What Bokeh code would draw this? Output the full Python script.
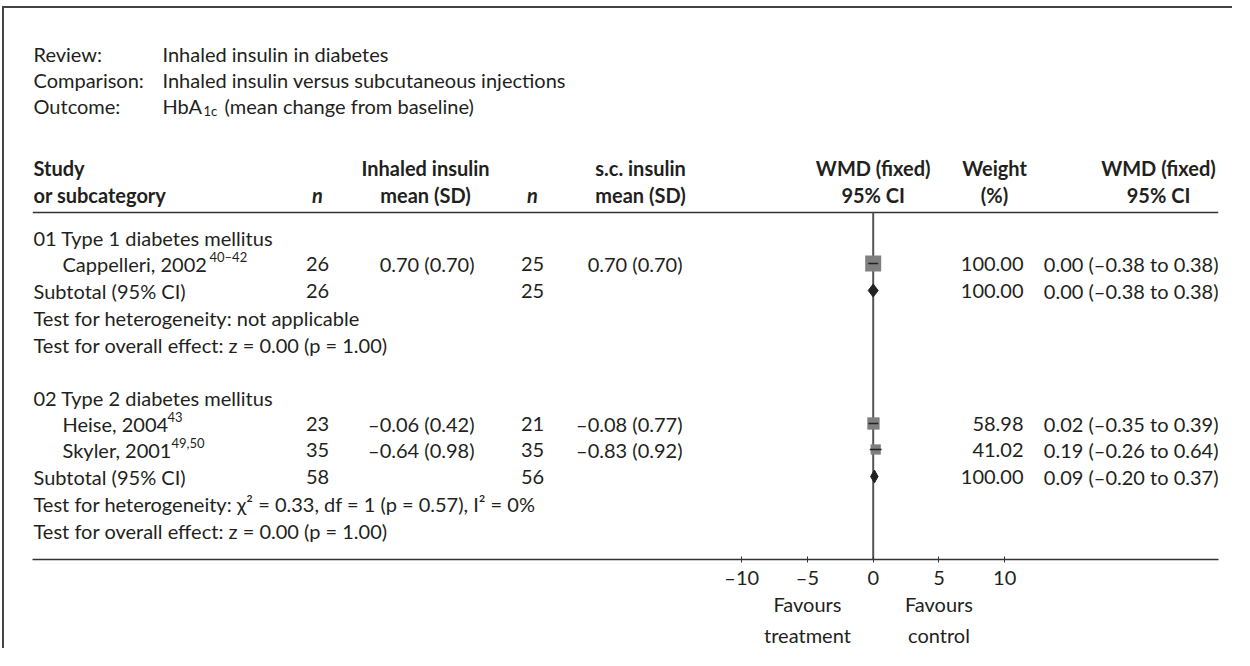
import math
from bokeh.plotting import figure
from bokeh.models import Range1d, LinearAxis, FixedTicker
from bokeh.core.properties import value
from bokeh.embed import file_html
from bokeh.resources import INLINE

# ---------------- data ----------------
review = "Inhaled insulin in diabetes"
comparison = "Inhaled insulin versus subcutaneous injections"
outcome_main = "HbA"
outcome_sub = "1c"
outcome_rest = "(mean change from baseline)"

group_names = ["01 Type 1 diabetes mellitus", "02 Type 2 diabetes mellitus"]
studies = ["Cappelleri, 2002", "Heise, 2004", "Skyler, 2001"]
study_refs = ["40\u201342", "43", "49,50"]
n_inh = [26, 23, 35]
mean_inh = [0.70, -0.06, -0.64]
sd_inh = [0.70, 0.42, 0.98]
n_sc = [25, 21, 35]
mean_sc = [0.70, -0.08, -0.83]
sd_sc = [0.70, 0.77, 0.92]
wmd = [0.00, 0.02, 0.19]
wmd_lo = [-0.38, -0.35, -0.26]
wmd_hi = [0.38, 0.39, 0.64]
weight = [100.00, 58.98, 41.02]

sub_n_inh = [26, 58]
sub_n_sc = [25, 56]
sub_wmd = [0.00, 0.09]
sub_lo = [-0.38, -0.20]
sub_hi = [0.38, 0.37]
sub_weight = [100.00, 100.00]

het_text = ["Test for heterogeneity: not applicable",
            "Test for heterogeneity: \u03c7\u00b2 = 0.33, df = 1 (p = 0.57), I\u00b2 = 0%"]
overall_text = ["Test for overall effect: z = 0.00 (p = 1.00)",
                "Test for overall effect: z = 0.00 (p = 1.00)"]

axis_ticks = [-10, -5, 0, 5, 10]
favour_labels = {-5: "Favours\ntreatment", 5: "Favours\ncontrol"}

# ---------------- layout (window pixel coordinates) ----------------
FONT = "Lato"
FS = "20px"
SUP = "13px"
INK = "#231f20"

X0, X1 = 40, 1226          # frame left/right
Y_TOP, Y_AX = 16, 567      # frame top / axis line
ZERO_X = 880.7
PX_PER_UNIT = 13.15

study_y = [271, 431, 457]
group_y = [245, 405]
subtotal_y = [298, 484]
het_y = [325, 511]
overall_y = [352, 538]
head_y = [175, 202]
rule_y = 220

col_label = 41
col_indent = 70
col_n1 = 325
col_m1 = 482
col_n2 = 540
col_m2 = 690
col_wt = 1031
col_ci = 1226
sup_x = [217, 175, 179]


def fmt(v):
    s = f"{abs(v):.2f}"
    return ("\u2013" + s) if v < 0 else s


p = figure(width=1230, height=642,
           x_range=Range1d(X0, X1), y_range=Range1d(Y_AX, Y_TOP),
           x_axis_type=None, y_axis_type=None,
           toolbar_location=None, output_backend="svg",
           min_border_left=28, min_border_right=16,
           min_border_top=0, min_border_bottom=91,
           outline_line_color=None,
           styles={"border-left": "2px solid #444", "border-top": "2px solid #444",
                   "margin-left": "2px", "margin-top": "6px"})
p.extra_x_ranges = {"wmd": Range1d((X0 - ZERO_X) / PX_PER_UNIT, (X1 - ZERO_X) / PX_PER_UNIT)}


def txt(x, y, s, align="left", style="normal", size=FS):
    if not isinstance(x, list):
        x, y, s = [x], [y], [s]
    p.text(x=x, y=y, text=s, text_font=value(FONT), text_font_size=size,
           text_font_style=style, text_align=align, text_baseline="middle",
           text_color=INK)


# title block
txt([col_label] * 3, [61, 87, 113], ["Review:", "Comparison:", "Outcome:"])
txt([170, 170, 170], [61, 87, 113], [review, comparison, outcome_main])
txt(211, 118, outcome_sub, size=SUP)
txt(232, 113, outcome_rest)

# column headers
txt([col_label, col_label], head_y, ["Study", "or subcategory"], style="bold")
txt([col_n1, col_n2], [head_y[1]] * 2, ["n", "n"], align="center", style="bold italic")
txt([433, 433, 648, 648, ZERO_X, ZERO_X, 1002, 1002, 1166, 1166],
    head_y * 5,
    ["Inhaled insulin", "mean (SD)", "s.c. insulin", "mean (SD)",
     "WMD (fixed)", "95% CI", "Weight", "(%)", "WMD (fixed)", "95% CI"],
    align="center", style="bold")
p.segment(x0=[X0], x1=[X1], y0=[rule_y], y1=[rule_y], line_color="#333", line_width=1.5)

# group / test rows
txt([col_label] * 2, group_y, group_names)
txt([col_label] * 2, het_y, het_text)
txt([col_label] * 2, overall_y, overall_text)
txt([col_label] * 2, subtotal_y, ["Subtotal (95% CI)"] * 2)

# studies
txt([col_indent] * 3, study_y, studies)
txt(sup_x, [y - 7 for y in study_y], study_refs, size=SUP)
txt([col_n1] * 3, study_y, [str(v) for v in n_inh], align="center")
txt([col_m1] * 3, study_y, [f"{fmt(m)} ({s:.2f})" for m, s in zip(mean_inh, sd_inh)], align="right")
txt([col_n2] * 3, study_y, [str(v) for v in n_sc], align="center")
txt([col_m2] * 3, study_y, [f"{fmt(m)} ({s:.2f})" for m, s in zip(mean_sc, sd_sc)], align="right")
txt([col_wt] * 3, study_y, [f"{w:.2f}" for w in weight], align="right")
txt([col_ci] * 3, study_y, [f"{fmt(e)} ({fmt(l)} to {fmt(h)})" for e, l, h in zip(wmd, wmd_lo, wmd_hi)], align="right")

# subtotals
txt([col_n1] * 2, subtotal_y, [str(v) for v in sub_n_inh], align="center")
txt([col_n2] * 2, subtotal_y, [str(v) for v in sub_n_sc], align="center")
txt([col_wt] * 2, subtotal_y, [f"{w:.2f}" for w in sub_weight], align="right")
txt([col_ci] * 2, subtotal_y, [f"{fmt(e)} ({fmt(l)} to {fmt(h)})" for e, l, h in zip(sub_wmd, sub_lo, sub_hi)], align="right")

# forest plot
p.segment(x0=[0], x1=[0], y0=[rule_y], y1=[Y_AX], x_range_name="wmd",
          line_color="#555", line_width=2)
p.scatter(x=wmd, y=study_y, size=[16 * math.sqrt(w / 100) for w in weight],
          marker="square", fill_color="#7f7f7f", line_color=None, x_range_name="wmd")
p.segment(x0=wmd_lo, x1=wmd_hi, y0=study_y, y1=study_y, x_range_name="wmd",
          line_color="#222", line_width=1.5)
p.patches(xs=[[l, m, h, m] for l, m, h in zip(sub_lo, sub_wmd, sub_hi)],
          ys=[[y, y - 6.5, y, y + 6.5] for y in subtotal_y],
          fill_color="#222", line_color="#222", line_width=1, x_range_name="wmd")

ax = LinearAxis(x_range_name="wmd", ticker=FixedTicker(ticks=axis_ticks),
                major_label_overrides={t: (f"\u2013{abs(t)}" if t < 0 else str(t)) for t in axis_ticks})
ax.axis_line_color = "#333"
ax.axis_line_width = 1.5
ax.major_tick_line_color = "#333"
ax.major_tick_in = 3
ax.major_tick_out = 3
ax.minor_tick_line_color = None
ax.major_label_standoff = 2
ax.major_label_text_font = FONT
ax.major_label_text_font_size = FS
ax.major_label_text_color = INK
p.add_layout(ax, "below")

ax2 = LinearAxis(x_range_name="wmd", ticker=FixedTicker(ticks=list(favour_labels.keys())),
                 major_label_overrides=favour_labels)
ax2.axis_line_color = None
ax2.major_tick_line_color = None
ax2.minor_tick_line_color = None
ax2.major_tick_out = 0
ax2.major_tick_in = 0
ax2.major_label_standoff = 0
ax2.major_label_text_font = FONT
ax2.major_label_text_font_size = FS
ax2.major_label_text_color = INK
ax2.major_label_text_line_height = 1.3
p.add_layout(ax2, "below")

open("out.html", "w").write(file_html(p, INLINE))
